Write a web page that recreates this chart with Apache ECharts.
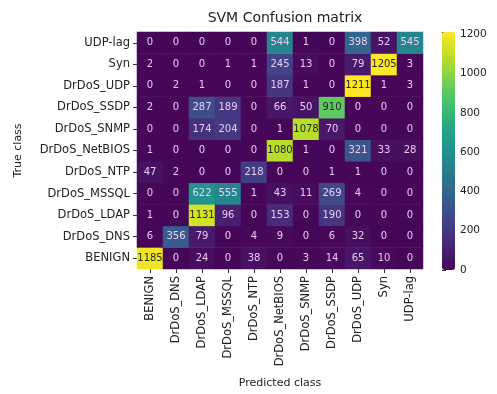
<!DOCTYPE html>
<html><head><meta charset="utf-8">
<script src="https://cdn.jsdelivr.net/npm/echarts@6/dist/echarts.min.js"></script>
<style>html,body{margin:0;padding:0;background:#fff}#c{width:497px;height:394px}</style>
</head><body><div id="c"></div>
<script>
// Class labels (predicted = x, true = y; y drawn bottom-to-top in this order)
const classes = ['BENIGN','DrDoS_DNS','DrDoS_LDAP','DrDoS_MSSQL','DrDoS_NTP','DrDoS_NetBIOS','DrDoS_SNMP','DrDoS_SSDP','DrDoS_UDP','Syn','UDP-lag'];
// Rows: true class, values per predicted class in the order of `classes`
const rowBENIGN   = [1185, 0, 24, 0, 38, 0, 3, 14, 65, 10, 0];
const rowDNS      = [6, 356, 79, 0, 4, 9, 0, 6, 32, 0, 0];
const rowLDAP     = [1, 0, 1131, 96, 0, 153, 0, 190, 0, 0, 0];
const rowMSSQL    = [0, 0, 622, 555, 1, 43, 11, 269, 4, 0, 0];
const rowNTP      = [47, 2, 0, 0, 218, 0, 0, 1, 1, 0, 0];
const rowNetBIOS  = [1, 0, 0, 0, 0, 1080, 1, 0, 321, 33, 28];
const rowSNMP     = [0, 0, 174, 204, 0, 1, 1078, 70, 0, 0, 0];
const rowSSDP     = [2, 0, 287, 189, 0, 66, 50, 910, 0, 0, 0];
const rowUDP      = [0, 2, 1, 0, 0, 187, 1, 0, 1211, 1, 3];
const rowSyn      = [2, 0, 0, 1, 1, 245, 13, 0, 79, 1205, 3];
const rowUDPlag   = [0, 0, 0, 0, 0, 544, 1, 0, 398, 52, 545];
const rows = [rowBENIGN, rowDNS, rowLDAP, rowMSSQL, rowNTP, rowNetBIOS, rowSNMP, rowSSDP, rowUDP, rowSyn, rowUDPlag];
const colorbarTicks = [0, 200, 400, 600, 800, 1000, 1200];

const vmax = Math.max(...rows.flat());
const data = [];
rows.forEach((r, yi) => r.forEach((v, xi) => data.push({value: [xi, yi, v],
  label: {color: v > 0.6 * vmax ? '#262626' : '#ecc8f2'}})));

const viridis = ['#470759','#482475','#414487','#355f8d','#2a788e','#21918c','#22a884','#44bf70','#7ad151','#bddf26','#fde725'];
const font = 'DejaVu Sans';
const chart = echarts.init(document.getElementById('c'), null, {renderer: 'canvas'});
chart.setOption({
  animation: false,
  title: {text: 'SVM Confusion matrix', left: 280, textAlign: 'center', top: 6,
    textStyle: {fontFamily: font, fontSize: 14, fontWeight: 'normal', color: '#222'}},
  grid: [
    {left: 137, top: 32, width: 286, height: 238},
    {left: 442, top: 32, width: 13, height: 238}
  ],
  xAxis: [
    {type: 'category', data: classes, gridIndex: 0, position: 'bottom',
     name: 'Predicted class', nameLocation: 'middle', nameGap: 109,
     nameTextStyle: {fontFamily: font, fontSize: 11, color: '#222'},
     axisLine: {show: false}, splitLine: {show: false},
     axisTick: {show: true, alignWithLabel: true, length: 4, lineStyle: {color: '#333'}},
     axisLabel: {rotate: 90, fontFamily: font, fontSize: 11.5, color: '#222', margin: 7, interval: 0}},
    {type: 'value', gridIndex: 1, show: false, min: 0, max: 1}
  ],
  yAxis: [
    {type: 'category', data: classes, gridIndex: 0,
     name: 'True class', nameLocation: 'middle', nameGap: 113, nameRotate: 90,
     nameTextStyle: {fontFamily: font, fontSize: 11, color: '#222'},
     axisLine: {show: false}, splitLine: {show: false},
     axisTick: {show: true, alignWithLabel: true, length: 4, lineStyle: {color: '#333'}},
     axisLabel: {fontFamily: font, fontSize: 11.5, color: '#222', margin: 7, interval: 0}},
    {type: 'value', gridIndex: 1, position: 'right', min: 0, max: vmax, interval: 200,
     axisLine: {show: false}, splitLine: {show: false},
     axisTick: {show: true, length: 4, lineStyle: {color: '#333'}},
     axisLabel: {fontFamily: font, fontSize: 10.5, color: '#222', margin: 5,
       formatter: v => colorbarTicks.includes(v) ? String(v) : ''}}
  ],
  visualMap: {
    type: 'continuous', min: 0, max: vmax, calculable: false, seriesIndex: 0,
    orient: 'vertical', left: 442, top: 32, itemWidth: 13, itemHeight: 238,
    padding: 0, text: null, showLabel: false,
    inRange: {color: viridis}
  },
  series: [{
    type: 'heatmap', xAxisIndex: 0, yAxisIndex: 0, data: data,
    itemStyle: {borderWidth: 0},
    label: {show: true, fontFamily: font, fontSize: 10,
      formatter: p => String(p.value[2])},
    emphasis: {disabled: true}
  }]
});
</script></body></html>
